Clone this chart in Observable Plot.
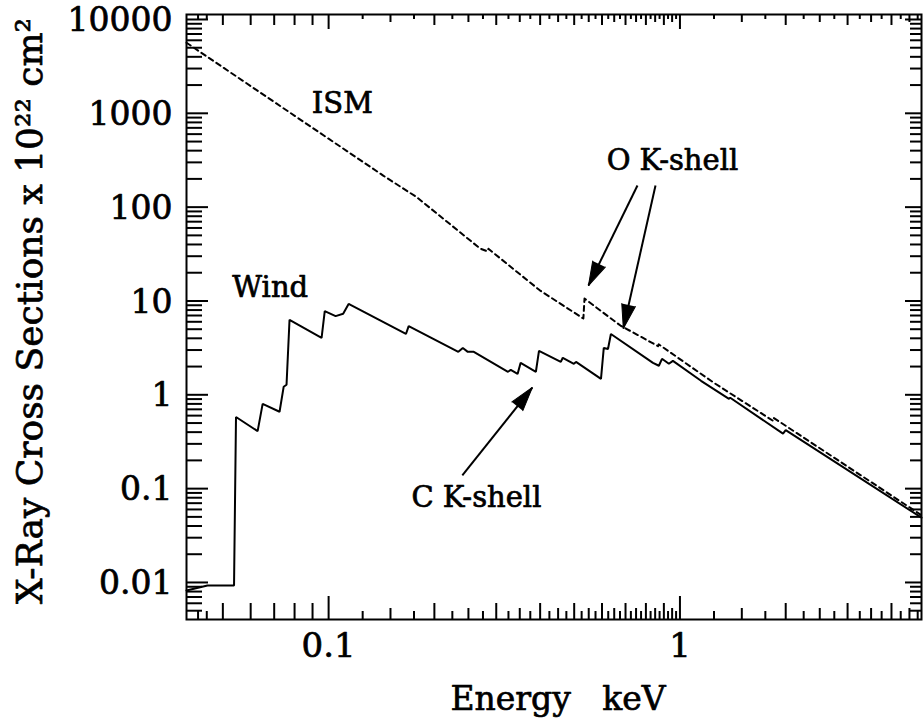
<!DOCTYPE html>
<html>
<head>
<meta charset="utf-8">
<script src="https://cdn.jsdelivr.net/npm/d3@7"></script>
<script src="https://cdn.jsdelivr.net/npm/@observablehq/plot@0.6"></script>
<style>
  html, body { margin: 0; padding: 0; background: #fff; }
  svg { display: block; }
</style>
</head>
<body>
<div id="chart"></div>
<script>
// ---- Data ----
const windEnergy = [0.0394, 0.0452, 0.0538, 0.0545, 0.0628, 0.0649, 0.0725, 0.0745, 0.0759, 0.0774,
  0.0955, 0.0975, 0.1047, 0.110, 0.114, 0.166, 0.169, 0.234, 0.241, 0.249, 0.259,
  0.324, 0.330, 0.345, 0.352, 0.389, 0.397, 0.458, 0.464, 0.499, 0.506,
  0.596, 0.607, 0.624, 0.636, 0.838, 0.871, 0.889, 0.930, 0.955,
  1.148, 1.379, 1.39, 1.965, 2.0, 4.87];
const windSigma = [0.0082, 0.0093, 0.0093, 0.58, 0.41, 0.80, 0.66, 1.22, 1.28, 6.3,
  4.04, 7.8, 6.9, 7.3, 9.3, 4.45, 5.4, 2.87, 3.16, 2.87, 2.87,
  1.76, 1.84, 1.67, 2.19, 1.76, 2.94, 2.24, 2.48, 2.14, 2.24,
  1.48, 3.16, 3.08, 4.45, 2.19, 2.04, 2.42, 2.14, 2.3,
  1.41, 0.906, 0.93, 0.385, 0.42, 0.049];

const ismEnergy = [0.0394, 0.143, 0.178, 0.270, 0.283, 0.285, 0.40, 0.531, 0.535, 0.677,
  0.866, 0.870, 1.246, 1.838, 1.845, 4.87];
const ismSigma = [5650, 217, 128, 36.2, 33.8, 36.0, 12.9, 6.5, 10.6, 5.47,
  3.3, 3.45, 1.35, 0.53, 0.57, 0.052];

// Axis ticks and labels
const xMajorTicks = [0.1, 1];
const xTickLabels = ["0.1", "1"];
const xUnitTicks = [0.05, 0.06, 0.07, 0.08, 0.09, 0.2, 0.3, 0.4, 0.5, 0.6, 0.7, 0.8, 0.9, 2, 3, 4];
const xHalfTicks = [0.15, 0.25, 0.35, 0.45, 0.55, 0.65, 0.75, 0.85, 0.95, 1.5, 2.5, 3.5, 4.5];
const xQuarterTicks = [0.0425, 0.045, 0.125, 0.175, 0.225, 0.275, 0.325, 0.375, 0.425, 0.475,
  0.525, 0.575, 0.625, 0.675, 0.725, 0.775, 0.825, 0.875, 0.925, 0.975,
  1.25, 1.75, 2.25, 2.75, 3.25, 3.75, 4.25, 4.75];

const yMajorTicks = [0.01, 0.1, 1, 10, 100, 1000, 10000];
const yTickLabels = ["0.01", "0.1", "1", "10", "100", "1000", "10000"];
const yMinorMultipliers = [2, 3, 4, 5, 6, 7, 8, 9];
const yMinorDecades = [0.001, 0.01, 0.1, 1, 10, 100, 1000];

// Annotations
const labels = [
  {text: "ISM", E: 0.1094, s: 1273},
  {text: "Wind", E: 0.0682, s: 13.9},
  {text: "O K-shell", E: 0.952, s: 314},
  {text: "C K-shell", E: 0.2634, s: 0.0804}
];
const arrows = [
  {E1: 0.757, s1: 170, E2: 0.549, s2: 14.6},
  {E1: 0.852, s1: 170, E2: 0.690, s2: 5.09},
  {E1: 0.2402, s1: 0.1384, E2: 0.380, s2: 1.196}
];

const xTitle = "Energy\u00A0\u00A0\u00A0keV";
const yTitle = "X-Ray Cross Sections x 10\u00B2\u00B2 cm\u00B2";

// ---- Layout ----
const W = 923, H = 723;
const ML = 186, MR = 2, MT = 14, MB = 104;
const FW = W - ML - MR, FH = H - MT - MB;
const xDomain = [0.0394, 4.87];
const yDomain = [0.00403, 11300];

const wind = windEnergy.map((E, i) => ({E, s: windSigma[i]}));
const ism = ismEnergy.map((E, i) => ({E, s: ismSigma[i]}));
const yMinorTicks = yMinorDecades.flatMap(d => yMinorMultipliers.map(m => +(m * d).toPrecision(3)))
  .filter(v => v >= yDomain[0] && v <= yDomain[1]);

// pixel-space scales (mirroring Plot's) to orient arrowheads
const xs = d3.scaleLog(xDomain, [ML, W - MR]);
const ys = d3.scaleLog(yDomain, [H - MB, MT]);
const arrowData = arrows.map(a => {
  const dx = xs(a.E2) - xs(a.E1), dy = ys(a.s2) - ys(a.s1);
  return {...a, angle: Math.atan2(dx, -dy) * 180 / Math.PI};
});

const tk = {stroke: "black", strokeWidth: 2};
function xTicks(values, bottomLen, topLen) {
  return [
    Plot.tickX(values, {x: d => d, insetTop: FH - bottomLen, ...tk}),
    Plot.tickX(values, {x: d => d, insetBottom: FH - topLen, ...tk})
  ];
}
function yTicks(values, leftLen, rightLen) {
  return [
    Plot.tickY(values, {y: d => d, insetRight: FW - leftLen, ...tk}),
    Plot.tickY(values, {y: d => d, insetLeft: FW - rightLen, ...tk})
  ];
}
const ink = {fill: "black", stroke: "black", strokeWidth: 0.7};

const chart = Plot.plot({
  width: W, height: H,
  marginLeft: ML, marginRight: MR, marginTop: MT, marginBottom: MB,
  style: {fontFamily: "'DejaVu Serif', serif", fontSize: "32px", color: "black", background: "white"},
  x: {type: "log", domain: xDomain, axis: null},
  y: {type: "log", domain: yDomain, axis: null},
  marks: [
    Plot.line(ism, {x: "E", y: "s", stroke: "black", strokeWidth: 2, strokeDasharray: "5,4"}),
    Plot.line(wind, {x: "E", y: "s", stroke: "black", strokeWidth: 2, strokeLinejoin: "miter"}),
    ...xTicks(xMajorTicks, 23, 15),
    ...xTicks(xUnitTicks, 16, 11),
    ...xTicks(xHalfTicks, 11, 8),
    ...xTicks(xQuarterTicks, 8, 5),
    ...yTicks(yMajorTicks, 22, 16),
    ...yTicks(yMinorTicks, 16, 11),
    Plot.frame({stroke: "black", strokeWidth: 2}),
    Plot.text(yMajorTicks, {y: d => d, text: (d, i) => yTickLabels[i], frameAnchor: "left", dx: -14, dy: 1, textAnchor: "end", lineAnchor: "middle", fontSize: 33, ...ink}),
    Plot.text(xMajorTicks, {x: d => d, text: (d, i) => xTickLabels[i], frameAnchor: "bottom", textAnchor: "middle", lineAnchor: "top", dy: 13, fontSize: 34, ...ink}),
    Plot.text([xTitle], {text: d => d, frameAnchor: "bottom", textAnchor: "middle", lineAnchor: "middle", dy: 80, dx: 4, fontSize: 33, ...ink}),
    Plot.text([yTitle], {text: d => d, frameAnchor: "left", textAnchor: "middle", lineAnchor: "middle", dx: -156, dy: -6, rotate: -90, fontSize: 36, ...ink}),
    Plot.text(labels, {x: "E", y: "s", text: "text", fontSize: 29, ...ink}),
    Plot.link(arrowData, {x1: "E1", y1: "s1", x2: "E2", y2: "s2", stroke: "black", strokeWidth: 2}),
    Plot.vector(arrowData, {x: "E2", y: "s2", rotate: "angle", length: 24, r: 7, shape: "spike", anchor: "end", fill: "black", stroke: "black", strokeWidth: 1})
  ]
});
document.getElementById("chart").appendChild(chart);
</script>
</body>
</html>
